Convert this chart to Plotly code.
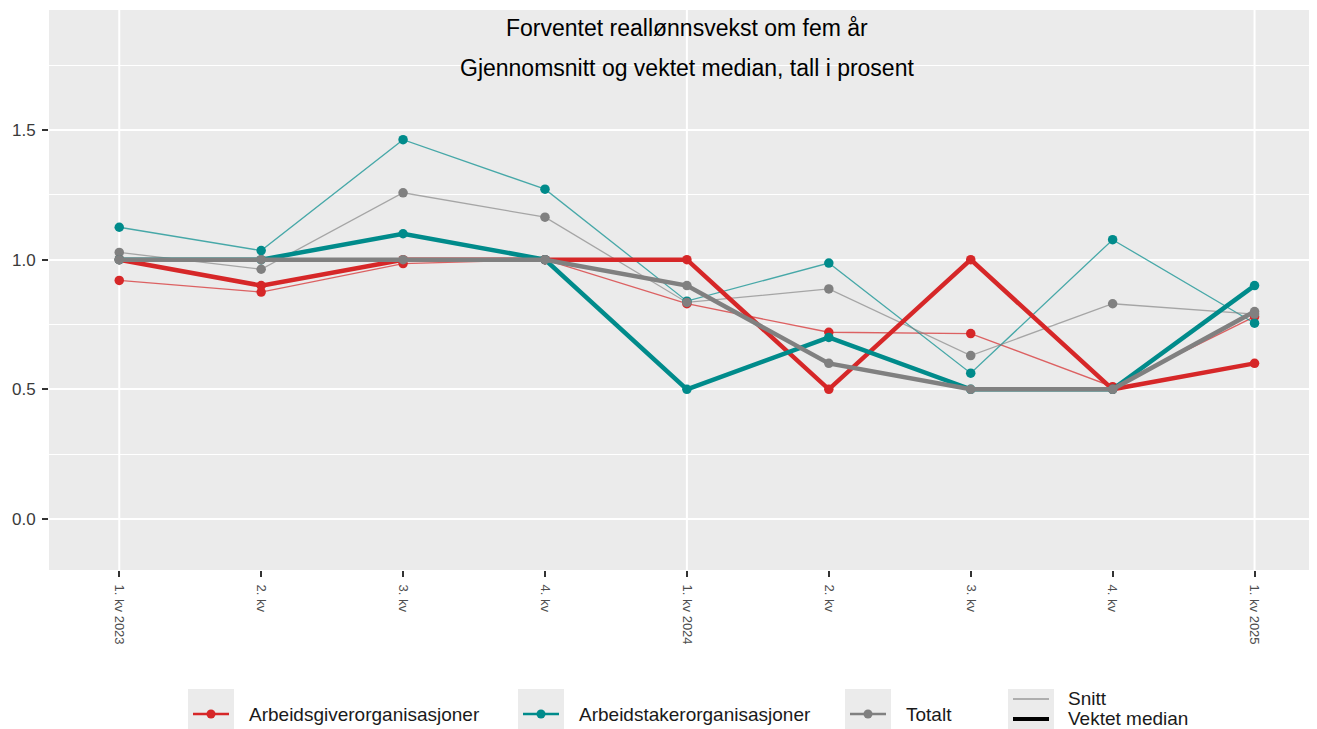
import plotly.graph_objects as go

# ---------------- data ----------------
quarters = list(range(9))
tick_labels = ["1. kv 2023", "2. kv", "3. kv", "4. kv", "1. kv 2024",
               "2. kv", "3. kv", "4. kv", "1. kv 2025"]

giver_snitt = [0.92, 0.875, 0.985, 1.0, 0.83, 0.72, 0.715, 0.51, 0.78]
giver_median = [1.0, 0.9, 1.0, 1.0, 1.0, 0.5, 1.0, 0.5, 0.6]
taker_snitt = [1.125, 1.035, 1.463, 1.272, 0.84, 0.987, 0.562, 1.077, 0.755]
taker_median = [1.0, 1.0, 1.1, 1.0, 0.5, 0.7, 0.5, 0.5, 0.9]
total_snitt = [1.028, 0.963, 1.258, 1.164, 0.835, 0.887, 0.63, 0.83, 0.79]
total_median = [1.0, 1.0, 1.0, 1.0, 0.9, 0.6, 0.5, 0.5, 0.8]

groups = ["Arbeidsgiverorganisasjoner", "Arbeidstakerorganisasjoner", "Totalt"]
colors = ["#d62728", "#008b8b", "#808080"]
thin_colors = ["rgba(214,39,40,0.7)", "rgba(0,139,139,0.7)", "rgba(128,128,128,0.65)"]
snitt = [giver_snitt, taker_snitt, total_snitt]
median = [giver_median, taker_median, total_median]

FONT = "Liberation Sans, Arial, Helvetica, sans-serif"

# ---------------- geometry helpers ----------------
# page body has an 8px margin; compensate so the figure lands where the reference is
OFF = 8
W, H = 1317 - OFF, 729 - OFF
L, R, T = 49 - OFF, 0, 10 - OFF
B = H - (570 - OFF)
PW, PH = W - L - R, H - T - B


def px(x):  # reference pixel x -> paper
    return (x - OFF - L) / PW


def py(y):  # reference pixel y -> paper
    return (H - B - (y - OFF)) / PH


fig = go.Figure()

# thin lines: mean
for g, c, tc, s in zip(groups, colors, thin_colors, snitt):
    fig.add_trace(go.Scatter(
        x=quarters, y=s, mode="lines", name=g + " snitt",
        line=dict(color=tc, width=1.3), showlegend=False, hoverinfo="skip"))
for g, c, tc, s in zip(groups, colors, thin_colors, snitt):
    fig.add_trace(go.Scatter(
        x=quarters, y=s, mode="markers", name=g + " snitt",
        marker=dict(color=c, size=9.5), showlegend=False))
# thick lines: weighted median
for g, c, m in zip(groups, colors, median):
    fig.add_trace(go.Scatter(
        x=quarters, y=m, mode="lines+markers", name=g,
        line=dict(color=c, width=4.5), marker=dict(color=c, size=9.5),
        showlegend=False))

shapes = []
# vertical major grid lines (yearly)
for xv in [0, 4, 8]:
    shapes.append(dict(type="line", xref="x", yref="paper", x0=xv, x1=xv,
                       y0=0, y1=1, line=dict(color="white", width=2), layer="below"))

# ---------------- custom legend ----------------
ly = 714
items = [(188, colors[0], groups[0]), (518, colors[1], groups[1]), (845, colors[2], groups[2])]
annotations = []
LEG_FONT = dict(size=19, color="#1a1a1a", family=FONT)
for x0, c, label in items:
    shapes.append(dict(type="rect", xref="paper", yref="paper",
                       x0=px(x0), x1=px(x0 + 46), y0=py(729), y1=py(689),
                       fillcolor="#ebebeb", line=dict(width=0)))
    shapes.append(dict(type="line", xref="paper", yref="paper",
                       x0=px(x0 + 5), x1=px(x0 + 41), y0=py(ly), y1=py(ly),
                       line=dict(color=c, width=2.5)))
    shapes.append(dict(type="circle", xref="paper", yref="paper",
                       x0=px(x0 + 18.5), x1=px(x0 + 27.5), y0=py(ly + 4.5), y1=py(ly - 4.5),
                       fillcolor=c, line=dict(width=0)))
    annotations.append(dict(text=label, xref="paper", yref="paper",
                            x=px(x0 + 59), y=py(ly), xanchor="left", yanchor="middle",
                            showarrow=False, font=LEG_FONT))

x0 = 1008
shapes.append(dict(type="rect", xref="paper", yref="paper",
                   x0=px(x0), x1=px(x0 + 46), y0=py(729), y1=py(689),
                   fillcolor="#ebebeb", line=dict(width=0)))
shapes.append(dict(type="line", xref="paper", yref="paper",
                   x0=px(x0 + 5), x1=px(x0 + 41), y0=py(699), y1=py(699),
                   line=dict(color="#9a9a9a", width=1.5)))
shapes.append(dict(type="line", xref="paper", yref="paper",
                   x0=px(x0 + 5), x1=px(x0 + 41), y0=py(719), y1=py(719),
                   line=dict(color="black", width=4)))
annotations.append(dict(text="Snitt", xref="paper", yref="paper",
                        x=px(1066), y=py(698), xanchor="left", yanchor="middle",
                        showarrow=False, font=LEG_FONT))
annotations.append(dict(text="Vektet median", xref="paper", yref="paper",
                        x=px(1066), y=py(718), xanchor="left", yanchor="middle",
                        showarrow=False, font=LEG_FONT))

# titles
TITLE_FONT = dict(size=23, color="black", family=FONT)
annotations.append(dict(text="Forventet reallønnsvekst om fem år", xref="x", yref="paper",
                        x=4, y=py(28), xanchor="center", yanchor="middle", showarrow=False,
                        font=TITLE_FONT))
annotations.append(dict(text="Gjennomsnitt og vektet median, tall i prosent", xref="x", yref="paper",
                        x=4, y=py(68), xanchor="center", yanchor="middle", showarrow=False,
                        font=TITLE_FONT))

fig.update_layout(
    width=W, height=H,
    margin=dict(l=L, r=R, t=T, b=B, pad=0),
    paper_bgcolor="white", plot_bgcolor="#ebebeb",
    font=dict(family=FONT),
    showlegend=False,
    shapes=shapes, annotations=annotations,
    xaxis=dict(range=[-0.495, 8.44], tickvals=quarters, ticktext=tick_labels,
               tickangle=90, showgrid=False, zeroline=False,
               ticks="outside", ticklen=6, tickwidth=1.5, tickcolor="#333333",
               ticklabelstandoff=5,
               tickfont=dict(size=13, color="#4d4d4d", family=FONT), showline=False),
    yaxis=dict(range=[-0.197, 1.963], tickvals=[0, 0.5, 1.0, 1.5],
               ticktext=["0.0", "0.5", "1.0", "1.5"], showgrid=True, gridcolor="white",
               gridwidth=2, zeroline=False, ticks="outside", ticklen=6, tickwidth=1.5,
               tickcolor="#333333", ticklabelstandoff=3,
               tickfont=dict(size=17, color="#3a3a3a", family=FONT),
               minor=dict(dtick=0.25, tick0=0, showgrid=True, gridcolor="white", gridwidth=1)),
)

fig.write_html("out.html")
